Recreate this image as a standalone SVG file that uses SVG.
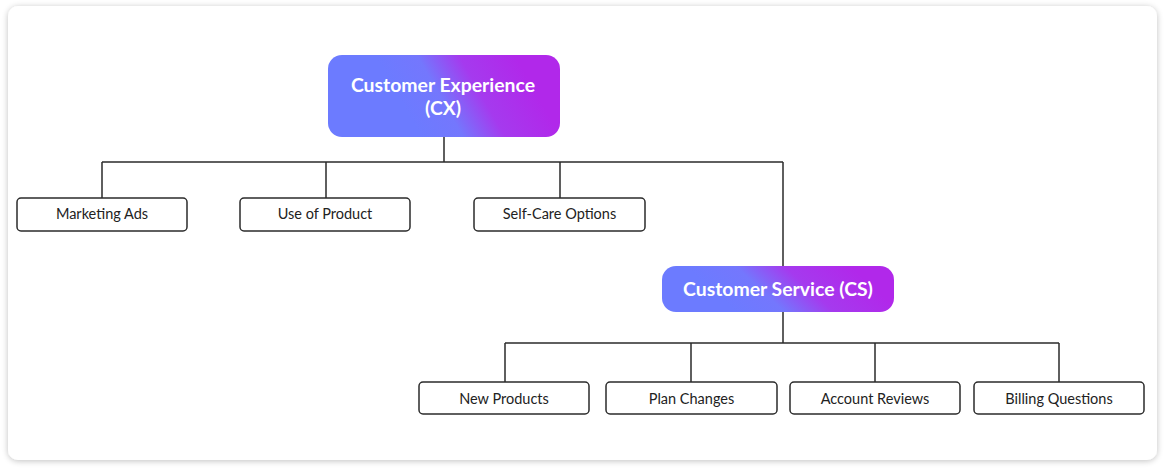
<svg xmlns="http://www.w3.org/2000/svg" width="1165" height="471" viewBox="0 0 1165 471">
<defs>
<linearGradient id="g1" gradientUnits="userSpaceOnUse" x1="415" y1="126" x2="521" y2="66">
<stop offset="0" stop-color="#6c7bff"/>
<stop offset="0.3" stop-color="#7477fd"/>
<stop offset="0.6" stop-color="#a53aee"/>
<stop offset="1" stop-color="#b128ea"/>
</linearGradient>
<linearGradient id="g2" gradientUnits="userSpaceOnUse" x1="755" y1="330" x2="831" y2="248">
<stop offset="0" stop-color="#6c7bff"/>
<stop offset="0.3" stop-color="#7477fd"/>
<stop offset="0.6" stop-color="#a53aee"/>
<stop offset="1" stop-color="#b128ea"/>
</linearGradient>
<filter id="sh" x="-5%" y="-5%" width="110%" height="110%">
<feGaussianBlur in="SourceAlpha" stdDeviation="3"/>
<feOffset dx="0" dy="1"/>
<feComponentTransfer><feFuncA type="linear" slope="0.25"/></feComponentTransfer>
<feMerge><feMergeNode/><feMergeNode in="SourceGraphic"/></feMerge>
</filter>
<style>
.leaf rect{fill:#fff;stroke:#2b2b2b;stroke-width:1.5}
.leaf text{font-family:Lato,"Liberation Sans",sans-serif;font-size:14.5px;fill:#222;text-anchor:middle}
.main text{font-family:Lato,"Liberation Sans",sans-serif;font-size:19.4px;font-weight:bold;fill:#fff;text-anchor:middle}
.conn path{fill:none;stroke:#2b2b2b;stroke-width:1.5}
</style>
</defs>
<rect x="0" y="0" width="1165" height="471" fill="#fff"/>
<rect x="8" y="6" width="1149" height="454" rx="10" fill="#fff" filter="url(#sh)"/>
<g class="conn" id="connectors">
<path d="M444 137V162M102 162H783M102 162V198M326 162V198M560 162V198M783 162V266"/>
<path d="M783 312V343M505 343H1059M505 343V382M691 343V382M875 343V382M1059 343V382"/>
</g>
<g class="main" id="cx"><rect x="328" y="55" width="232" height="82" rx="14" fill="url(#g1)"/><text x="443" y="92">Customer Experience</text><text x="443" y="115">(CX)</text></g>
<g class="main" id="cs"><rect x="662" y="266" width="232" height="46" rx="14" fill="url(#g2)"/><text x="778" y="296">Customer Service (CS)</text></g>
<g class="leaf" id="marketing"><rect x="17" y="198" width="170" height="33" rx="4"/><text x="102" y="219">Marketing Ads</text></g>
<g class="leaf" id="use"><rect x="240" y="198" width="170" height="33" rx="4"/><text x="325" y="219">Use of Product</text></g>
<g class="leaf" id="selfcare"><rect x="474" y="198" width="171" height="33" rx="4"/><text x="559.5" y="219">Self-Care Options</text></g>
<g class="leaf" id="newprod"><rect x="419" y="382" width="170" height="32" rx="4"/><text x="504" y="404">New Products</text></g>
<g class="leaf" id="plan"><rect x="606" y="382" width="171" height="32" rx="4"/><text x="691.5" y="404">Plan Changes</text></g>
<g class="leaf" id="account"><rect x="790" y="382" width="170" height="32" rx="4"/><text x="875" y="404">Account Reviews</text></g>
<g class="leaf" id="billing"><rect x="974" y="382" width="170" height="32" rx="4"/><text x="1059" y="404">Billing Questions</text></g>
</svg>
